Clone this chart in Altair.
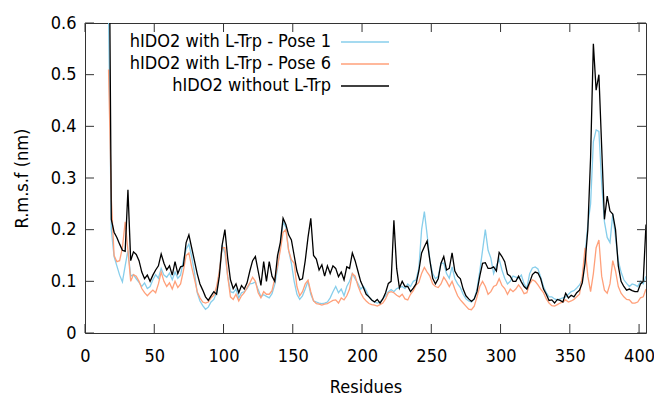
import altair as alt
import pandas as pd

FONT = "DejaVu Sans Condensed, DejaVu Sans"

residues = list(range(17, 406, 2))

names = ["hIDO2 with L-Trp - Pose 1", "hIDO2 with L-Trp - Pose 6", "hIDO2 without L-Trp"]
colors = ["#87ceeb", "#ffa07a", "#000000"]

xticks = [0, 50, 100, 150, 200, 250, 300, 350, 400]
yticks = [0, 0.1, 0.2, 0.3, 0.4, 0.5, 0.6]

pose1 = [
    0.62, 0.2, 0.148, 0.13, 0.112, 0.099, 0.13, 0.16, 0.11, 0.113,
    0.105, 0.098, 0.09, 0.097, 0.086, 0.09, 0.103, 0.113, 0.106, 0.125,
    0.112, 0.108, 0.116, 0.103, 0.118, 0.106, 0.112, 0.14, 0.162, 0.172,
    0.148, 0.118, 0.078, 0.062, 0.053, 0.046, 0.05, 0.06, 0.065, 0.078,
    0.12, 0.17, 0.155, 0.11, 0.08, 0.078, 0.085, 0.068, 0.078, 0.08,
    0.086, 0.095, 0.096, 0.099, 0.084, 0.07, 0.074, 0.071, 0.068, 0.076,
    0.094, 0.125, 0.17, 0.215, 0.205, 0.16, 0.135, 0.1, 0.075, 0.065,
    0.072, 0.085, 0.1, 0.075, 0.062, 0.06, 0.058, 0.057, 0.058, 0.06,
    0.068, 0.08, 0.09, 0.078, 0.085, 0.072, 0.09, 0.1, 0.115, 0.105,
    0.096, 0.085, 0.09, 0.082, 0.07, 0.064, 0.06, 0.058, 0.06, 0.066,
    0.072, 0.08, 0.084, 0.08, 0.086, 0.088, 0.09, 0.086, 0.095, 0.09,
    0.1, 0.103, 0.125, 0.2, 0.235, 0.19, 0.14, 0.115, 0.105, 0.11,
    0.135, 0.135, 0.115, 0.106, 0.128, 0.105, 0.095, 0.088, 0.075, 0.066,
    0.062, 0.06, 0.066, 0.085, 0.12, 0.16, 0.2, 0.16, 0.145, 0.115,
    0.13, 0.143, 0.122, 0.106, 0.095, 0.1, 0.11, 0.108, 0.106, 0.112,
    0.095, 0.087, 0.115, 0.126, 0.128, 0.124, 0.108, 0.09, 0.078, 0.07,
    0.07, 0.066, 0.064, 0.066, 0.068, 0.07, 0.075, 0.08, 0.082, 0.087,
    0.093, 0.103, 0.15, 0.21, 0.25, 0.37, 0.393, 0.39, 0.29, 0.215,
    0.185, 0.175, 0.23, 0.185, 0.14, 0.118, 0.103, 0.096, 0.09, 0.095,
    0.093, 0.09, 0.1, 0.095, 0.11,
]

pose6 = [
    0.51, 0.26, 0.15, 0.138, 0.14, 0.165, 0.215, 0.16, 0.1, 0.113,
    0.11, 0.1, 0.086, 0.078, 0.072, 0.078, 0.083, 0.078, 0.095, 0.118,
    0.1, 0.09, 0.097, 0.085, 0.1, 0.088, 0.095, 0.12, 0.15, 0.155,
    0.128, 0.105, 0.08, 0.068, 0.06, 0.058, 0.06, 0.068, 0.073, 0.09,
    0.12, 0.165, 0.165, 0.11, 0.07, 0.065, 0.075, 0.062, 0.072, 0.078,
    0.088, 0.097, 0.108, 0.1, 0.078, 0.068, 0.08, 0.075, 0.075, 0.082,
    0.105, 0.13, 0.16, 0.195, 0.2, 0.16, 0.142, 0.135, 0.09, 0.072,
    0.08, 0.095, 0.102, 0.08, 0.062, 0.057, 0.056, 0.054, 0.056, 0.057,
    0.06, 0.063, 0.064, 0.058, 0.068, 0.064, 0.072, 0.085, 0.115, 0.11,
    0.092, 0.078, 0.068, 0.062, 0.057, 0.055, 0.054, 0.052, 0.055, 0.058,
    0.066, 0.078, 0.08, 0.078, 0.073, 0.07, 0.075, 0.066, 0.064, 0.075,
    0.082, 0.093, 0.098, 0.115, 0.127, 0.118, 0.11, 0.095, 0.09, 0.088,
    0.095, 0.108, 0.1, 0.09, 0.1, 0.085, 0.072, 0.064, 0.058, 0.052,
    0.046, 0.045, 0.052, 0.07, 0.09, 0.1, 0.09, 0.075, 0.08, 0.09,
    0.093, 0.105, 0.092, 0.086, 0.075, 0.085, 0.08, 0.085, 0.093, 0.086,
    0.076, 0.078, 0.095, 0.103, 0.1, 0.093, 0.085, 0.078, 0.066, 0.058,
    0.053, 0.052, 0.055, 0.058, 0.06, 0.064, 0.06, 0.062, 0.065, 0.07,
    0.075, 0.11, 0.165, 0.11, 0.08, 0.115, 0.165, 0.18, 0.11, 0.083,
    0.077, 0.095, 0.14, 0.12, 0.09, 0.077, 0.07, 0.065, 0.064, 0.058,
    0.058, 0.06, 0.068, 0.07, 0.085,
]

without_trp = [
    0.95, 0.22, 0.195, 0.185, 0.172, 0.16, 0.158, 0.277, 0.14, 0.157,
    0.152, 0.14, 0.118, 0.105, 0.112, 0.1, 0.112, 0.122, 0.13, 0.153,
    0.135, 0.122, 0.13, 0.112, 0.138, 0.115, 0.128, 0.13, 0.175, 0.19,
    0.165, 0.14, 0.115, 0.095, 0.083, 0.07, 0.063, 0.072, 0.08, 0.075,
    0.11, 0.17, 0.2, 0.145, 0.103, 0.086, 0.095, 0.078, 0.092, 0.085,
    0.097, 0.12, 0.14, 0.148, 0.12, 0.092, 0.138, 0.1, 0.138, 0.11,
    0.1, 0.15, 0.175, 0.222, 0.21, 0.19, 0.18, 0.15, 0.12, 0.103,
    0.105, 0.14, 0.185, 0.222, 0.15, 0.143, 0.122, 0.132, 0.11, 0.13,
    0.115, 0.13, 0.125, 0.109, 0.118, 0.103, 0.128, 0.125, 0.155, 0.14,
    0.12, 0.1, 0.088, 0.075, 0.07, 0.064, 0.06, 0.065, 0.058, 0.066,
    0.078, 0.096, 0.1, 0.218, 0.125, 0.087, 0.1, 0.09, 0.09, 0.08,
    0.087, 0.095, 0.12, 0.155, 0.167, 0.178, 0.14, 0.106, 0.095, 0.105,
    0.135, 0.148, 0.122, 0.125, 0.155, 0.12, 0.11, 0.105, 0.085, 0.072,
    0.066, 0.061, 0.066, 0.08, 0.11, 0.135, 0.136, 0.125, 0.125, 0.128,
    0.12, 0.156, 0.148, 0.138, 0.114, 0.11, 0.1, 0.1, 0.11, 0.099,
    0.09, 0.085, 0.098, 0.113, 0.118, 0.116, 0.105, 0.085, 0.075, 0.063,
    0.064, 0.058, 0.065, 0.063, 0.06, 0.077, 0.068, 0.073, 0.07, 0.078,
    0.083, 0.097, 0.135, 0.2, 0.34, 0.56, 0.47, 0.5, 0.36, 0.22,
    0.265, 0.236, 0.23, 0.2, 0.13, 0.1, 0.09, 0.083, 0.085, 0.082,
    0.08, 0.08, 0.095, 0.1, 0.21,
]

W, H = 561, 310

xscale = alt.Scale(domain=[0, 405], nice=False, zero=False)
yscale = alt.Scale(domain=[0, 0.6], nice=False)

xaxis = alt.Axis(values=xticks, title="Residues", tickSize=0, domain=False, grid=False,
                 labelPadding=14, titlePadding=13, labelFlush=False)
yaxis = alt.Axis(values=yticks, title="R.m.s.f (nm)", tickSize=0, domain=False, grid=False,
                 labelPadding=9, titlePadding=19,
                 labelExpr="datum.value == 0 ? '0' : format(datum.value, '.1f')")


def line_layer(vals, color):
    df = pd.DataFrame({"Residue": residues, "RMSF": vals})
    return alt.Chart(df).mark_line(color=color, strokeWidth=1.3, clip=True).encode(
        x=alt.X("Residue:Q", scale=xscale, axis=xaxis),
        y=alt.Y("RMSF:Q", scale=yscale, axis=yaxis),
    )


layers = [line_layer(pose1, colors[0]), line_layer(pose6, colors[1]), line_layer(without_trp, colors[2])]

xt = pd.DataFrame({"Residue": xticks})
yt = pd.DataFrame({"RMSF": yticks})
TL = 9
for y0, y1 in [(H, H - TL), (0, TL)]:
    layers.append(alt.Chart(xt).mark_rule(color="#333", strokeWidth=1).encode(
        x=alt.X("Residue:Q", scale=xscale, axis=xaxis),
        y=alt.value(y0), y2=alt.value(y1)))
for x0, x1 in [(0, TL), (W, W - TL)]:
    layers.append(alt.Chart(yt).mark_rule(color="#333", strokeWidth=1).encode(
        y=alt.Y("RMSF:Q", scale=yscale, axis=yaxis),
        x=alt.value(x0), x2=alt.value(x1)))

leg_y = [19, 41, 63]
for name, col, ly in zip(names, colors, leg_y):
    ldf = pd.DataFrame({"label": [name]})
    layers.append(alt.Chart(ldf).mark_text(align="right", baseline="middle", fontSize=18,
                                            font=FONT, color="#000").encode(
        text="label:N", x=alt.value(246), y=alt.value(ly)))
    layers.append(alt.Chart(ldf).mark_rule(color=col, strokeWidth=1.3).encode(
        x=alt.value(256), x2=alt.value(304), y=alt.value(ly)))

chart = alt.layer(*layers).properties(
    width=W, height=H,
    autosize=alt.AutoSizeParams(type="none"),
    padding={"left": 77, "top": 15, "right": 8, "bottom": 65},
).configure_view(stroke="#333", strokeWidth=1).configure_axis(
    labelFont=FONT, titleFont=FONT, labelFontSize=18, titleFontSize=18,
    titleFontWeight="normal", labelColor="#000", titleColor="#000",
)

chart.save("out.html", embed_options={"renderer": "svg", "actions": False})
